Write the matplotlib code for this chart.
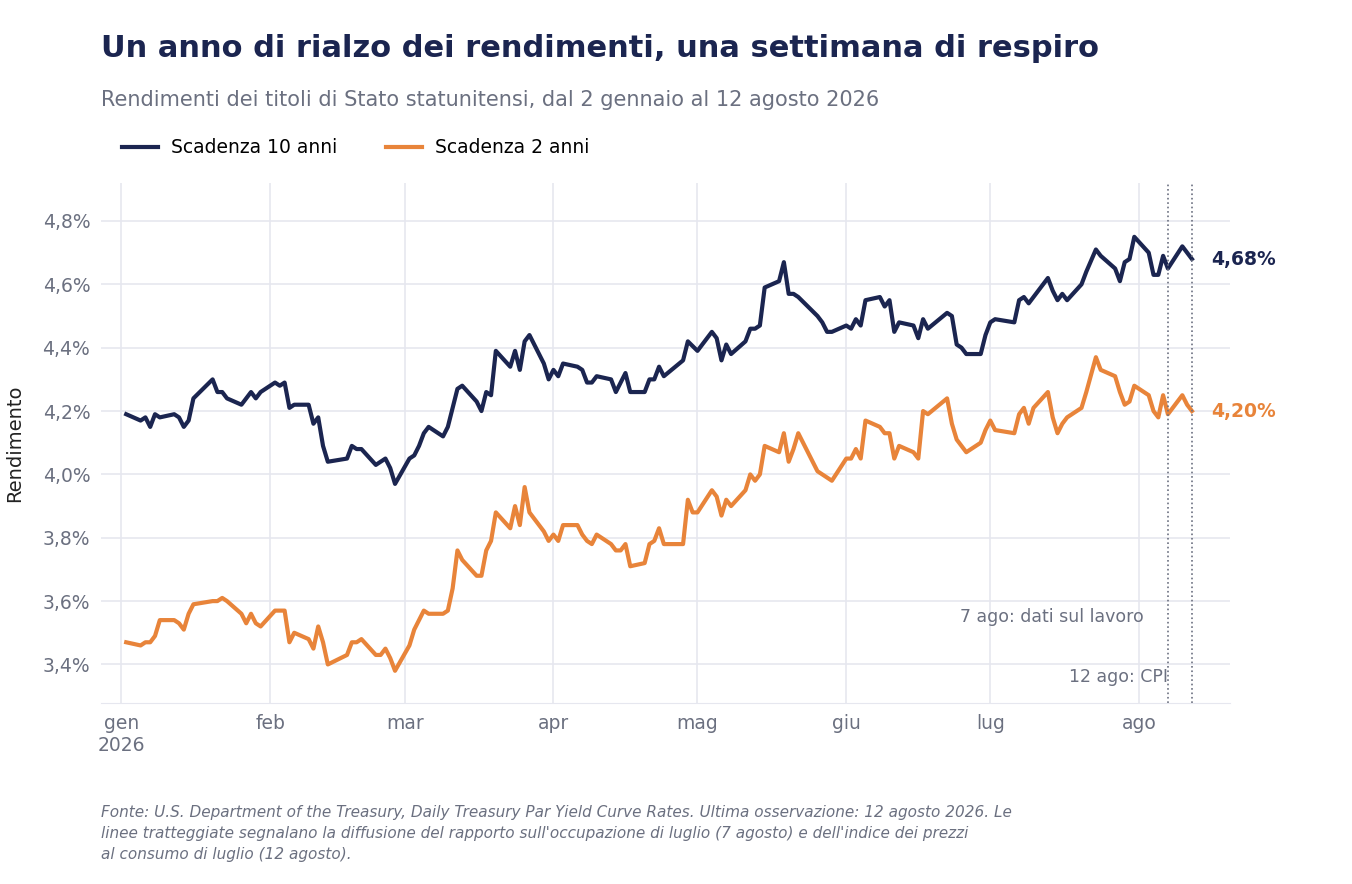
import pandas as pd
import matplotlib.pyplot as plt
import matplotlib.ticker as mticker

# giorni dal 1 gennaio 2026, rendimenti in %
giorni_10 = [1, 4, 5, 6, 7, 8, 11, 12, 13, 14, 15, 19, 20, 21, 22, 25, 27, 28, 29, 32, 33, 34, 35, 36, 39, 40, 41, 42, 43,
             47, 48, 49, 50, 53, 55, 56, 57, 60, 61, 62, 63, 64, 67, 68, 69, 70, 71, 74, 75, 76, 77, 78, 81, 82, 83, 84, 85,
             88, 89, 90, 91, 92, 95, 96, 97, 98, 99, 102, 103, 105, 106, 109, 110, 111, 112, 113, 117, 118, 120, 123, 124,
             125, 126, 127, 130, 131, 132, 133, 134, 137, 138, 139, 140, 141, 145, 146, 147, 148, 151, 152, 153, 154, 155,
             158, 159, 160, 161, 162, 165, 166, 167, 168, 172, 173, 174, 175, 176, 179, 180, 181, 182, 186, 187, 188, 189,
             193, 194, 195, 196, 197, 200, 201, 203, 204, 207, 208, 209, 210, 211, 214, 215, 216, 217, 218, 221, 222, 223]
rend_10 = [4.19, 4.17, 4.18, 4.15, 4.19, 4.18, 4.19, 4.18, 4.15, 4.17, 4.24, 4.30, 4.26, 4.26, 4.24, 4.22, 4.26, 4.24, 4.26,
           4.29, 4.28, 4.29, 4.21, 4.22, 4.22, 4.16, 4.18, 4.09, 4.04, 4.05, 4.09, 4.08, 4.08, 4.03, 4.05, 4.02, 3.97, 4.05,
           4.06, 4.09, 4.13, 4.15, 4.12, 4.15, 4.21, 4.27, 4.28, 4.23, 4.20, 4.26, 4.25, 4.39, 4.34, 4.39, 4.33, 4.42, 4.44,
           4.35, 4.30, 4.33, 4.31, 4.35, 4.34, 4.33, 4.29, 4.29, 4.31, 4.30, 4.26, 4.32, 4.26, 4.26, 4.30, 4.30, 4.34, 4.31,
           4.36, 4.42, 4.39, 4.45, 4.43, 4.36, 4.41, 4.38, 4.42, 4.46, 4.46, 4.47, 4.59, 4.61, 4.67, 4.57, 4.57, 4.56, 4.50,
           4.48, 4.45, 4.45, 4.47, 4.46, 4.49, 4.47, 4.55, 4.56, 4.53, 4.55, 4.45, 4.48, 4.47, 4.43, 4.49, 4.46, 4.51, 4.50,
           4.41, 4.40, 4.38, 4.38, 4.44, 4.48, 4.49, 4.48, 4.55, 4.56, 4.54, 4.62, 4.58, 4.55, 4.57, 4.55, 4.60, 4.64, 4.71,
           4.69, 4.65, 4.61, 4.67, 4.68, 4.75, 4.70, 4.63, 4.63, 4.69, 4.65, 4.72, 4.70, 4.68]

giorni_2 = [1, 4, 5, 6, 7, 8, 11, 12, 13, 14, 15, 19, 20, 21, 22, 25, 26, 27, 28, 29, 32, 34, 35, 36, 39, 40, 41, 42, 43,
            47, 48, 49, 50, 53, 54, 55, 56, 57, 60, 61, 62, 63, 64, 67, 68, 69, 70, 71, 74, 75, 76, 77, 78, 81, 82, 83, 84,
            85, 88, 89, 90, 91, 92, 95, 96, 97, 98, 99, 102, 103, 104, 105, 106, 109, 110, 111, 112, 113, 117, 118, 119,
            120, 123, 124, 125, 126, 127, 130, 131, 132, 133, 134, 137, 138, 139, 140, 141, 145, 148, 151, 152, 153, 154,
            155, 158, 159, 160, 161, 162, 165, 166, 167, 168, 172, 173, 174, 176, 179, 180, 181, 182, 186, 187, 188, 189,
            190, 193, 194, 195, 196, 197, 200, 201, 203, 204, 207, 208, 209, 210, 211, 214, 215, 216, 217, 218, 221, 222, 223]
rend_2 = [3.47, 3.46, 3.47, 3.47, 3.49, 3.54, 3.54, 3.53, 3.51, 3.56, 3.59, 3.60, 3.60, 3.61, 3.60, 3.56, 3.53, 3.56, 3.53,
          3.52, 3.57, 3.57, 3.47, 3.50, 3.48, 3.45, 3.52, 3.47, 3.40, 3.43, 3.47, 3.47, 3.48, 3.43, 3.43, 3.45, 3.42, 3.38,
          3.46, 3.51, 3.54, 3.57, 3.56, 3.56, 3.57, 3.64, 3.76, 3.73, 3.68, 3.68, 3.76, 3.79, 3.88, 3.83, 3.90, 3.84, 3.96,
          3.88, 3.82, 3.79, 3.81, 3.79, 3.84, 3.84, 3.81, 3.79, 3.78, 3.81, 3.78, 3.76, 3.76, 3.78, 3.71, 3.72, 3.78, 3.79,
          3.83, 3.78, 3.78, 3.92, 3.88, 3.88, 3.95, 3.93, 3.87, 3.92, 3.90, 3.95, 4.00, 3.98, 4.00, 4.09, 4.07, 4.13, 4.04,
          4.08, 4.13, 4.01, 3.98, 4.05, 4.05, 4.08, 4.05, 4.17, 4.15, 4.13, 4.13, 4.05, 4.09, 4.07, 4.05, 4.20, 4.19, 4.24,
          4.16, 4.11, 4.07, 4.10, 4.14, 4.17, 4.14, 4.13, 4.19, 4.21, 4.16, 4.21, 4.26, 4.18, 4.13, 4.16, 4.18, 4.21, 4.26,
          4.37, 4.33, 4.31, 4.26, 4.22, 4.23, 4.28, 4.25, 4.20, 4.18, 4.25, 4.19, 4.25, 4.22, 4.20]

mesi = ['gen\n2026', 'feb', 'mar', 'apr', 'mag', 'giu', 'lug', 'ago']
eventi = [('2026-08-07', '7 ago: dati sul lavoro', 3.55), ('2026-08-12', '12 ago: CPI', 3.36)]

NAVY = '#1b2550'
ORANGE = '#e8843a'
GREY = '#6b7080'

base = pd.Timestamp('2026-01-01')
date_10 = base + pd.to_timedelta(giorni_10, unit='D')
date_2 = base + pd.to_timedelta(giorni_2, unit='D')

fig = plt.figure(figsize=(13.52, 8.84), dpi=100)
ax = fig.add_axes([0.075, 0.205, 0.835, 0.588])

ax.plot(date_10, rend_10, color=NAVY, lw=3, label='Scadenza 10 anni', solid_joinstyle='round')
ax.plot(date_2, rend_2, color=ORANGE, lw=3, label='Scadenza 2 anni', solid_joinstyle='round')

ax.set_xlim(pd.Timestamp('2025-12-27 20:00'), pd.Timestamp('2026-08-20'))
ax.set_ylim(3.279, 4.92)
ax.yaxis.set_major_locator(mticker.MultipleLocator(0.2))
ax.yaxis.set_major_formatter(mticker.FuncFormatter(lambda v, p: f'{v:.1f}%'.replace('.', ',')))
ax.set_xticks(pd.date_range('2026-01-01', periods=8, freq='MS'))
ax.set_xticklabels(mesi)
ax.grid(True, color='#e6e7ef', lw=1.2)
ax.set_axisbelow(True)
for s in ['top', 'right', 'left']:
    ax.spines[s].set_visible(False)
ax.spines['bottom'].set_color('#e6e7ef')
ax.tick_params(length=0, labelsize=13.5, labelcolor=GREY, pad=8)
ax.set_ylabel('Rendimento', fontsize=14, color='#222222', labelpad=13)

for d, testo, y in eventi:
    ax.axvline(pd.Timestamp(d), color=GREY, lw=1.2, ls=':')
    ax.text(pd.Timestamp(d) - pd.Timedelta(days=5), y, testo, ha='right', va='center', fontsize=12.5, color=GREY)

ax.text(date_10[-1] + pd.Timedelta(days=4), rend_10[-1], f'{rend_10[-1]:.2f}%'.replace('.', ','),
        color=NAVY, fontsize=13.5, fontweight='bold', va='center')
ax.text(date_2[-1] + pd.Timedelta(days=4), rend_2[-1], f'{rend_2[-1]:.2f}%'.replace('.', ','),
        color=ORANGE, fontsize=13.5, fontweight='bold', va='center')

ax.legend(loc='lower left', bbox_to_anchor=(0.012, 1.035), ncol=2, frameon=False, fontsize=13.5,
          handlelength=1.9, columnspacing=2.6, borderaxespad=0, handletextpad=0.7)

fig.text(0.075, 0.945, 'Un anno di rialzo dei rendimenti, una settimana di respiro', fontsize=22,
         fontweight='bold', color=NAVY, va='center')
fig.text(0.075, 0.887, 'Rendimenti dei titoli di Stato statunitensi, dal 2 gennaio al 12 agosto 2026',
         fontsize=15, color=GREY, va='center')
fig.text(0.075, 0.025, "Fonte: U.S. Department of the Treasury, Daily Treasury Par Yield Curve Rates. Ultima osservazione: 12 agosto 2026. Le\n"
         "linee tratteggiate segnalano la diffusione del rapporto sull'occupazione di luglio (7 agosto) e dell'indice dei prezzi\n"
         "al consumo di luglio (12 agosto).", fontsize=11, style='italic', color=GREY, va='bottom', linespacing=1.5)

fig.savefig('out.png', dpi=100)
